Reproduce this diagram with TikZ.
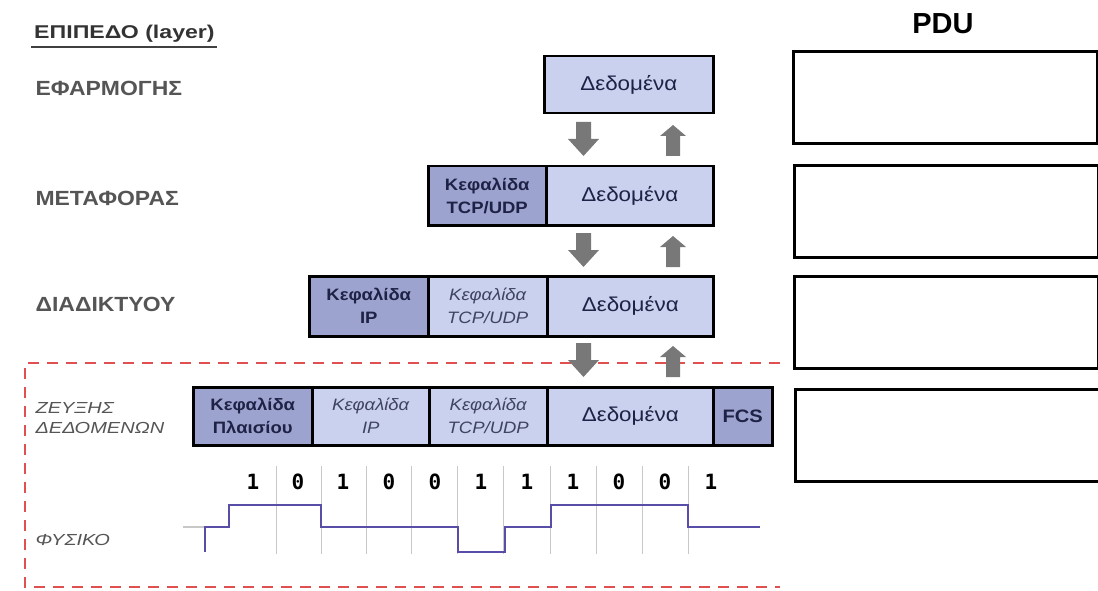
\documentclass[tikz,border=0pt]{standalone}
\usepackage{fontspec}
\setmainfont{Liberation Sans}
\newfontfamily\widefont[FakeStretch=1.12]{Liberation Sans}
\newfontfamily\wwidefont[FakeStretch=1.25]{Liberation Sans}
\newfontfamily\bitfont{DejaVu Sans Mono}
\definecolor{hdrcol}{RGB}{156,163,206}
\definecolor{litcol}{RGB}{201,209,238}
\definecolor{navy}{RGB}{30,34,70}
\definecolor{lblgray}{RGB}{85,85,85}
\definecolor{arrgray}{RGB}{120,120,120}
\definecolor{sigcol}{RGB}{88,78,168}
\definecolor{reddash}{RGB}{225,80,80}
\definecolor{gridgray}{RGB}{200,200,200}
\begin{document}
\begin{tikzpicture}[x=1pt,y=-1pt,
  box/.style={draw=black, line width=2.5pt, anchor=north west, inner sep=0pt, align=center, text=navy},
  hdr/.style={box, fill=hdrcol, font=\widefont\bfseries\fontsize{16.5}{23}\selectfont},
  lit/.style={box, fill=litcol, font=\widefont\itshape\fontsize{16.5}{23}\selectfont, text=navy!85},
  dat/.style={box, fill=litcol, font=\widefont\fontsize{20}{24}\selectfont},
  layer/.style={anchor=west, font=\widefont\bfseries\fontsize{20.5}{24}\selectfont, text=lblgray},
  ilayer/.style={anchor=west, font=\wwidefont\itshape\fontsize{16}{20}\selectfont, text=lblgray, align=left},
  bit/.style={font=\bitfont\bfseries\fontsize{21}{24}\selectfont, text=black},
  pdu/.style={draw=black, line width=2.8pt, anchor=north west, minimum width=304, minimum height=92, inner sep=0pt},
  blockarr/.style={fill=arrgray},
  grid/.style={draw=gridgray, line width=1pt},
  sig/.style={draw=sigcol, line width=2pt},
  frame/.style={draw=reddash, line width=2.2pt, dash pattern=on 11pt off 8pt}
]
\useasboundingbox (0,0) rectangle (1098,591);

% title and layer labels
\node[anchor=west, font=\wwidefont\bfseries\fontsize{18.5}{22}\selectfont, text=black!80, inner sep=0pt] (title) at (34,34) {ΕΠΙΠΕΔΟ (layer)};
\draw[line width=1.8pt, black!75] ([yshift=-4pt,xshift=-3pt]title.south west) -- ([yshift=-4pt,xshift=2pt]title.south east);
\node[layer] (lapp) at (32,88) {ΕΦΑΡΜΟΓΗΣ};
\node[layer] (ltrn) at (32,198) {ΜΕΤΑΦΟΡΑΣ};
\node[layer] (lnet) at (32,304) {ΔΙΑΔΙΚΤΥΟΥ};
\node[ilayer] (llnk) at (32,418) {ΖΕΥΞΗΣ\\ΔΕΔΟΜΕΝΩΝ};
\node[ilayer] (lphy) at (32,540) {ΦΥΣΙΚΟ};

% red dashed frame
\draw[frame] (780,363) -- (25,363) -- (25,587) -- (780,587);

% application
\node[dat, minimum width=169, minimum height=57] (appd) at (543,55) {Δεδομένα};
% transport
\node[hdr, minimum width=118, minimum height=59] (trnh) at (427,165) {Κεφαλίδα\\TCP/UDP};
\node[dat, minimum width=167, minimum height=59] (trnd) at (545,165) {Δεδομένα};
% internet
\node[hdr, minimum width=119, minimum height=60] (neth) at (308,275) {Κεφαλίδα\\IP};
\node[lit, minimum width=119, minimum height=60] (nett) at (427,275) {Κεφαλίδα\\TCP/UDP};
\node[dat, minimum width=166, minimum height=60] (netd) at (546,275) {Δεδομένα};
% link
\node[hdr, minimum width=119, minimum height=58] (lnkh) at (192,386) {Κεφαλίδα\\Πλαισίου};
\node[lit, minimum width=117, minimum height=58] (lnki) at (311,386) {Κεφαλίδα\\IP};
\node[lit, minimum width=118, minimum height=58] (lnkt) at (428,386) {Κεφαλίδα\\TCP/UDP};
\node[dat, minimum width=166, minimum height=58] (lnkd) at (546,386) {Δεδομένα};
\node[hdr, minimum width=59, minimum height=58, font=\widefont\bfseries\fontsize{18}{20}\selectfont] (lnkf) at (712,386) {FCS};

% block arrows (down at x=583, up at x=673)
\foreach \t in {122,233,343}{
  \fill[blockarr] (576,\t) -- (591,\t) -- (591,\t+17) -- (599,\t+17) -- (583.5,\t+34) -- (568,\t+17) -- (576,\t+17) -- cycle;
  \fill[blockarr] (666,\t+34) -- (680,\t+34) -- (680,\t+14) -- (686,\t+14) -- (673,\t+3) -- (660,\t+14) -- (666,\t+14) -- cycle;
}

% grid lines and bits
\foreach \g in {276,321,366,411,457,503,550,596,642,688}{
  \draw[grid] (\g,466) -- (\g,554);
}
\draw[gridgray, line width=1.2pt] (183,527) -- (205,527);
\foreach \b/\x in {1/253,0/298,1/343,0/389,0/435,1/481,1/527,1/573,0/619,0/665,1/711}{
  \node[bit] at (\x,482) {\b};
}

% signal
\draw[sig] (205,552) -- (205,527) -- (229,527) -- (229,505) -- (321,505) -- (321,527)
  -- (458,527) -- (458,552) -- (505,552) -- (505,527) -- (551,527) -- (551,505)
  -- (688,505) -- (688,527) -- (760,527);

% PDU column
\node[font=\bfseries\fontsize{29}{32}\selectfont, text=black] (pdu) at (943,24) {PDU};
\node[pdu] (p1) at (792,50) {};
\node[pdu] (p2) at (793,164) {};
\node[pdu] (p3) at (793,275) {};
\node[pdu] (p4) at (794,388) {};
\end{tikzpicture}
\end{document}
